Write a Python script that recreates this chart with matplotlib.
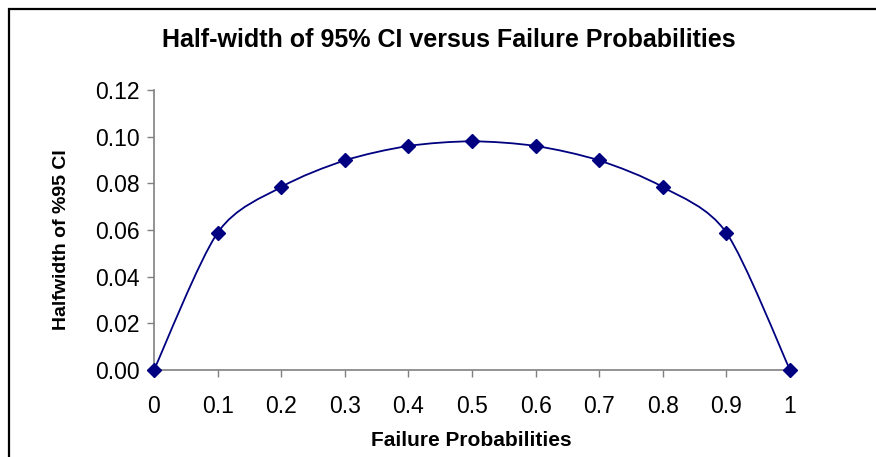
import matplotlib
matplotlib.use('Agg')
import matplotlib.pyplot as plt
from matplotlib.path import Path
from matplotlib.patches import PathPatch, Rectangle
import numpy as np

# === Data ===
failure_prob = [0.0, 0.1, 0.2, 0.3, 0.4, 0.5, 0.6, 0.7, 0.8, 0.9, 1.0]
half_width = [0.0, 0.0588, 0.0784, 0.0898, 0.0960, 0.0980, 0.0960, 0.0898, 0.0784, 0.0588, 0.0]
x_ticks = [0, 0.1, 0.2, 0.3, 0.4, 0.5, 0.6, 0.7, 0.8, 0.9, 1]
x_tick_labels = ['0', '0.1', '0.2', '0.3', '0.4', '0.5', '0.6', '0.7', '0.8', '0.9', '1']
y_ticks = [0.0, 0.02, 0.04, 0.06, 0.08, 0.10, 0.12]

plt.rcParams['font.family'] = ['Liberation Sans', 'DejaVu Sans']
navy = '#000080'

fig = plt.figure(figsize=(8.76, 4.57), dpi=100)
ax = fig.add_axes([154 / 876, 1 - 370 / 457, 636 / 876, 280 / 457])

# Excel-style smoothed line: cubic Bezier segments through the points
pts = np.column_stack([failure_prob, half_width])
ext = np.vstack([pts[0], pts, pts[-1]])
verts = [tuple(pts[0])]
codes = [Path.MOVETO]
for i in range(1, len(ext) - 2):
    p0, p1, p2, p3 = ext[i - 1], ext[i], ext[i + 1], ext[i + 2]
    c1 = p1 + (p2 - p0) / 7
    c2 = p2 - (p3 - p1) / 7
    verts += [tuple(c1), tuple(c2), tuple(p2)]
    codes += [Path.CURVE4] * 3
ax.add_patch(PathPatch(Path(verts, codes), fill=False, edgecolor=navy, linewidth=1.3, zorder=2))
ax.plot(failure_prob, half_width, linestyle='none', marker='D', markersize=7.5,
        color=navy, clip_on=False, zorder=3)

ax.set_xlim(0, 1)
ax.set_ylim(0, 0.12)
ax.set_xticks(x_ticks)
ax.set_xticklabels(x_tick_labels)
ax.set_yticks(y_ticks)
ax.set_yticklabels([f'{v:.2f}' for v in y_ticks])
ax.tick_params(axis='both', labelsize=16.5, direction='out', length=5, color='#808080', width=1)
ax.tick_params(axis='x', pad=13)
ax.tick_params(axis='y', pad=5)

for s in ['top', 'right']:
    ax.spines[s].set_visible(False)
for s in ['left', 'bottom']:
    ax.spines[s].set_color('#808080')
    ax.spines[s].set_linewidth(1.2)

fig.text(449 / 876, 1 - 40 / 457, 'Half-width of 95% CI versus Failure Probabilities',
         ha='center', va='center', fontsize=18, fontweight='bold')
fig.text(471 / 876, 1 - 440 / 457, 'Failure Probabilities',
         ha='center', va='center', fontsize=15, fontweight='bold')
fig.text(62 / 876, 1 - 240 / 457, 'Halfwidth of %95 CI', rotation=90,
         ha='center', va='center', fontsize=14, fontweight='bold')

# chart area frame (only top and left edges show in the crop)
fig.patches.append(Rectangle((9 / 876, -0.1), 1.2, 1 - 9 / 457 + 0.1, transform=fig.transFigure,
                             fill=False, edgecolor='black', linewidth=1.6))

fig.savefig('out.png', dpi=100)
